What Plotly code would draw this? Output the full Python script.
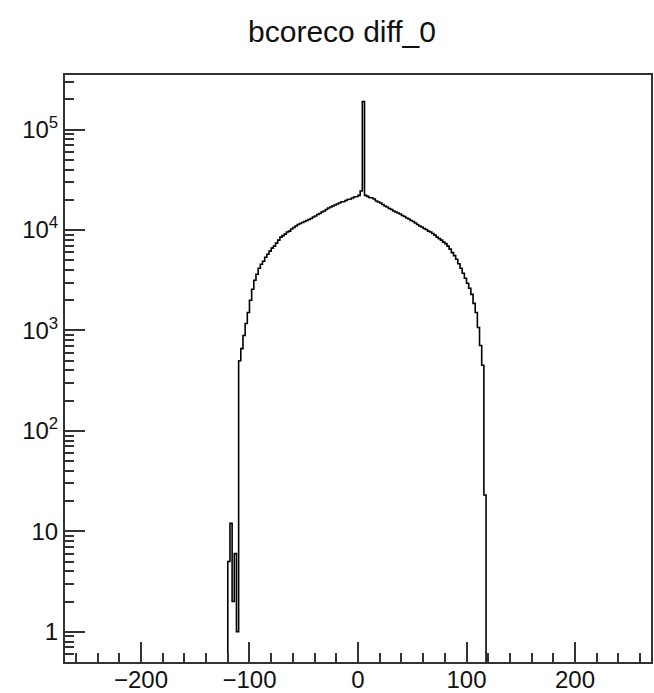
import math
import plotly.graph_objects as go

# ---- data ----
title_text = "bcoreco diff_0"
bin_lo = -120          # left edge of first listed bin
bin_w = 2              # bin width
x_min, x_max = -270, 270
# counts per bin, starting at bin_lo
counts = [
    5, 12, 2, 6, 1,                                   # -120 .. -110 tail
    500, 660, 890, 1175, 1510, 2000, 2570, 3160, 3630, 4170,
    4570, 4900, 5370, 5750, 6170, 6610, 6920, 7410, 7940, 8510,
    8810, 9120, 9550, 9770, 10230, 10590, 10960, 11350, 11610, 11890,
    12160, 12450, 12740, 13030, 13490, 13800, 14290, 14620, 15140, 15490,
    16030, 16600, 16980, 17380, 17780, 18200, 18620, 19050, 19280, 19720,
    20180, 20420, 20890, 21380, 21630, 22130, 24500, 190000, 22130, 21630,
    21130, 20890, 20420, 19500, 19050, 18620, 17990, 17380, 16980, 16410,
    16030, 15490, 15140, 14790, 14450, 13960, 13650, 13180, 12880, 12450,
    12160, 11750, 11350, 10960, 10720, 10350, 10120, 9770, 9550, 9230,
    8910, 8510, 8220, 7940, 7590, 7330, 6920, 6460, 5960, 5560,
    5130, 4620, 4170, 3720, 3310, 2950, 2630, 2290, 1860, 1510,
    1070, 710, 450, 23,
]
x_tickvals = [-200, -100, 0, 100, 200]
x_ticktext = ["\u2212200", "\u2212100", "0", "100", "200"]
y_tickvals = [1, 10, 100, 1000, 10000, 100000]
y_ticktext = ["1", "10", "10<sup>2</sup>", "10<sup>3</sup>", "10<sup>4</sup>", "10<sup>5</sup>"]
y_lo, y_hi = 0.5, 3.5e5

# ---- build step outline ----
floor = 1e-3
xs = [x_min, bin_lo]
ys = [floor, floor]
for i, c in enumerate(counts):
    e0 = bin_lo + i * bin_w
    xs += [e0, e0 + bin_w]
    ys += [max(c, floor), max(c, floor)]
end = bin_lo + len(counts) * bin_w
xs += [end, x_max]
ys += [floor, floor]

fig = go.Figure()
fig.add_trace(go.Scatter(x=xs, y=ys, mode="lines",
                         line=dict(color="#000000", width=1.6),
                         hoverinfo="skip", showlegend=False))

font = dict(family="Liberation Sans, Arial, Helvetica, sans-serif", size=24, color="#111111")
fig.update_layout(
    width=654, height=693,
    margin=dict(l=65, r=3, t=75, b=31),
    paper_bgcolor="white", plot_bgcolor="white",
    title=dict(text=title_text, x=0.523, xanchor="center", y=1 - 31 / 693, yanchor="middle",
               font=dict(family="Liberation Sans, Arial, sans-serif", size=30, color="#111111")),
    showlegend=False,
)
fig.update_xaxes(range=[x_min, x_max], tickvals=x_tickvals, ticktext=x_ticktext,
                 ticks="inside", ticklen=20, tickwidth=2, tickcolor="#333333",
                 minor=dict(ticks="inside", ticklen=9, tickwidth=2, tickcolor="#333333", dtick=20, tick0=0),
                 showline=True, linecolor="#333333", linewidth=2, mirror=True,
                 showgrid=False, zeroline=False, tickfont=font, automargin=False,
                 ticklabelstandoff=-5)
fig.update_yaxes(type="log", range=[math.log10(y_lo), math.log10(y_hi)],
                 tickvals=y_tickvals, ticktext=y_ticktext,
                 ticks="inside", ticklen=20, tickwidth=2, tickcolor="#333333",
                 minor=dict(ticks="inside", ticklen=9, tickwidth=2, tickcolor="#333333", dtick="D1"),
                 showline=True, linecolor="#333333", linewidth=2, mirror=True,
                 showgrid=False, zeroline=False, tickfont=font, automargin=False)

fig.write_html("out.html", config={"displayModeBar": False},
               post_script="document.body.style.margin='0';document.body.style.overflow='hidden';")
